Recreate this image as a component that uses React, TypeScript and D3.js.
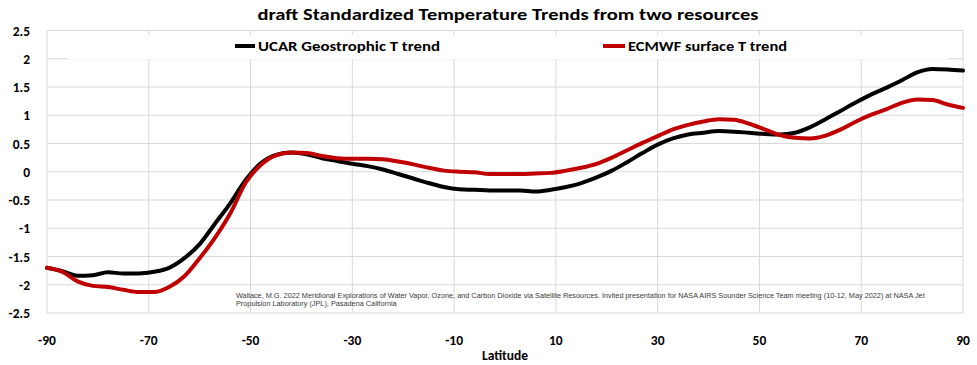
import React from "react";
import * as d3 from "d3";

// latitude samples shared by both series
const latitudes = [
  -90, -87, -84, -81, -78, -75, -72, -69, -66, -63, -60, -57, -54, -51, -48, -45, -42, -39, -36, -33,
  -30, -27, -24, -21, -18, -15, -12, -9, -6, -3, 0, 3, 6, 9, 12, 15, 18, 21, 24, 27, 30, 33, 36, 39,
  42, 45, 48, 51, 54, 57, 60, 63, 66, 69, 72, 75, 78, 81, 84, 87, 90,
];

const ucarTrend = [
  -1.7, -1.76, -1.84, -1.83, -1.78, -1.8, -1.8, -1.77, -1.7, -1.53, -1.28, -0.92, -0.56, -0.15, 0.15,
  0.3, 0.34, 0.31, 0.24, 0.19, 0.14, 0.1, 0.04, -0.04, -0.12, -0.2, -0.27, -0.31, -0.32, -0.33, -0.33,
  -0.33, -0.35, -0.32, -0.27, -0.2, -0.1, 0.02, 0.17, 0.33, 0.48, 0.59, 0.66, 0.69, 0.72, 0.71, 0.69,
  0.67, 0.66, 0.69, 0.79, 0.93, 1.08, 1.23, 1.37, 1.49, 1.62, 1.76, 1.82, 1.81, 1.79,
];

const ecmwfTrend = [
  -1.7, -1.77, -1.94, -2.02, -2.04, -2.09, -2.13, -2.13, -2.04, -1.85, -1.53, -1.17, -0.74, -0.2, 0.12,
  0.29, 0.34, 0.33, 0.28, 0.24, 0.23, 0.23, 0.22, 0.18, 0.13, 0.07, 0.02, 0.0, -0.01, -0.04, -0.04,
  -0.04, -0.03, -0.02, 0.02, 0.07, 0.14, 0.25, 0.38, 0.51, 0.63, 0.75, 0.83, 0.89, 0.93, 0.92, 0.85,
  0.75, 0.65, 0.6, 0.59, 0.64, 0.75, 0.89, 1.01, 1.11, 1.22, 1.28, 1.27, 1.19, 1.13,
];

const xTicks = [-90, -70, -50, -30, -10, 10, 30, 50, 70, 90];
const yTicks = [-2.5, -2, -1.5, -1, -0.5, 0, 0.5, 1, 1.5, 2, 2.5];

const seriesNames = ["UCAR Geostrophic T trend", "ECMWF surface T trend"];
const titleText = "draft Standardized Temperature Trends from two resources";
const citation = [
  "Wallace, M.G. 2022  Meridional Explorations of Water Vapor, Ozone, and Carbon Dioxide via Satellite Resources.  Invited presentation for NASA AIRS Sounder Science Team meeting (10-12, May 2022)  at NASA Jet",
  "Propulsion Laboratory (JPL), Pasadena California",
];

const W = 977;
const H = 365;
const plot = { left: 47, right: 963, top: 30.5, bottom: 313 };
const font = "Carlito, Calibri, Lato, 'Liberation Sans', sans-serif";

export default function App() {
  const x = d3.scaleLinear().domain([-90, 90]).range([plot.left, plot.right]);
  const y = d3.scaleLinear().domain([-2.5, 2.5]).range([plot.bottom, plot.top]);

  const line = d3
    .line<number>()
    .x((_, i) => x(latitudes[i]))
    .y((d) => y(d))
    .curve(d3.curveMonotoneX);

  const series = [
    { name: seriesNames[0], values: ucarTrend, color: "#000000" },
    { name: seriesNames[1], values: ecmwfTrend, color: "#c00000" },
  ];

  return (
    <div style={{ position: "absolute", left: 0, top: 0 }}>
      <svg width={W} height={H} style={{ display: "block", background: "#fff" }}>
        {/* grid */}
        {yTicks.map((t) => (
          <line key={"h" + t} x1={plot.left} x2={plot.right} y1={y(t)} y2={y(t)} stroke="#d9d9d9" />
        ))}
        {xTicks.map((t) => (
          <line key={"v" + t} x1={x(t)} x2={x(t)} y1={plot.top} y2={plot.bottom} stroke="#d9d9d9" />
        ))}

        {/* legend box covers the grid */}
        <rect x={68} y={35} width={879} height={24} fill="#fff" />
        <g fontFamily={font} fontWeight="bold" fontSize={14}>
          <line x1={235} x2={255} y1={46} y2={46} stroke="#000" strokeWidth={4} />
          <text x={258} y={51} textLength={182} lengthAdjust="spacingAndGlyphs">
            {seriesNames[0]}
          </text>
          <line x1={603} x2={625} y1={46} y2={46} stroke="#c00000" strokeWidth={4} />
          <text x={628} y={51} textLength={159} lengthAdjust="spacingAndGlyphs">
            {seriesNames[1]}
          </text>
        </g>

        {/* series */}
        {series.map((s) => (
          <path
            key={s.name}
            d={line(s.values) ?? ""}
            fill="none"
            stroke={s.color}
            strokeWidth={4}
            strokeLinejoin="round"
            strokeLinecap="round"
          />
        ))}

        {/* citation */}
        <g fontFamily="'Liberation Sans', Arial, sans-serif" fontSize={7.3} fill="#3a3a3a">
          <text x={236} y={298}>
            {citation[0]}
          </text>
          <text x={236} y={306}>
            {citation[1]}
          </text>
        </g>

        {/* axes labels */}
        <g fontFamily={font} fontWeight="bold" fontSize={13.5} fill="#000">
          {yTicks.map((t) => (
            <text key={"yl" + t} x={30} y={y(t) + 5} textAnchor="end">
              {t}
            </text>
          ))}
          {xTicks.map((t) => (
            <text key={"xl" + t} x={x(t)} y={345} textAnchor="middle">
              {t}
            </text>
          ))}
          <text x={505} y={360} textAnchor="middle">
            Latitude
          </text>
        </g>

        <text
          x={508}
          y={20}
          textAnchor="middle"
          fontFamily={font}
          fontWeight="bold"
          fontSize={16.5}
          textLength={501}
          lengthAdjust="spacingAndGlyphs"
        >
          {titleText}
        </text>
      </svg>
    </div>
  );
}
